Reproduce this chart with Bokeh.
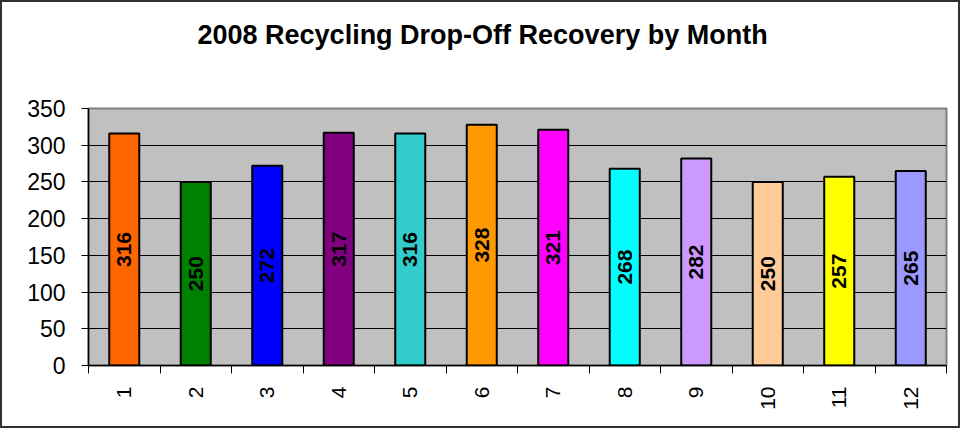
import math
from bokeh.plotting import figure
from bokeh.models import ColumnDataSource, FixedTicker, Range1d, Title
from bokeh.core.properties import value
from bokeh.embed import file_html
from bokeh.resources import INLINE

# ---- data ----
months = [1, 2, 3, 4, 5, 6, 7, 8, 9, 10, 11, 12]
tons = [316, 250, 272, 317, 316, 328, 321, 268, 282, 250, 257, 265]
colors = ["#FF6600", "#008000", "#0000FF", "#800080", "#33CCCC", "#FF9900",
          "#FF00FF", "#00FFFF", "#CC99FF", "#FFCC99", "#FFFF00", "#9999FF"]
y_ticks = [0, 50, 100, 150, 200, 250, 300, 350]
title_text = "2008 Recycling Drop-Off Recovery by Month"

src = ColumnDataSource(dict(
    x=months, top=tons, color=colors,
    mid=[t / 2 for t in tons], label=[str(t) for t in tons],
))

FONT = "Liberation Sans"

p = figure(width=960, height=428, output_backend="svg", toolbar_location=None,
           title=None,
           x_range=Range1d(0.5, 12.5), y_range=Range1d(0, 350),
           min_border_left=86, min_border_right=16,
           min_border_top=106, min_border_bottom=65,
           background_fill_color="#C0C0C0", border_fill_color="white")
p.styles = {"border": "2px solid #303030"}

# spacer (nearest the frame), then the real title above it
p.add_layout(Title(text=" ", text_font=FONT, text_font_size="26px",
                   standoff=10), "above")
p.add_layout(Title(text=title_text, align="left", offset=109, text_font=FONT,
                   text_font_size="27px", text_font_style="bold",
                   text_color="black", vertical_align="middle",
                   standoff=31), "above")

p.vbar(x="x", top="top", bottom=0, width=0.42, source=src,
       fill_color="color", line_color="black", line_width=2)

p.text(x="x", y="mid", text="label", source=src, angle=math.pi / 2,
       text_align="center", text_baseline="middle",
       text_font=value(FONT), text_font_size="21px", text_font_style="bold",
       text_color="black")

# axes
p.xaxis.ticker = FixedTicker(ticks=months,
                             minor_ticks=[m + 0.5 for m in [0] + months])
p.xaxis.major_tick_out = 0
p.xaxis.major_tick_in = 0
p.xaxis.minor_tick_out = 8
p.xaxis.minor_tick_in = 0
p.xaxis.minor_tick_line_color = "black"
p.xaxis.major_label_orientation = math.pi / 2
p.xaxis.major_label_standoff = 13
p.xaxis.major_label_text_font = FONT
p.xaxis.major_label_text_font_size = "21px"
p.xaxis.major_label_text_color = "black"
p.xaxis.axis_line_color = "black"
p.xaxis.axis_line_width = 1.5

p.yaxis.ticker = FixedTicker(ticks=y_ticks)
p.yaxis.major_tick_out = 7
p.yaxis.major_tick_in = 0
p.yaxis.minor_tick_out = 0
p.yaxis.minor_tick_in = 0
p.yaxis.major_label_standoff = 16
p.yaxis.major_label_text_font = FONT
p.yaxis.major_label_text_font_size = "23px"
p.yaxis.major_label_text_color = "black"
p.yaxis.axis_line_color = "black"
p.yaxis.axis_line_width = 1.5

p.xgrid.grid_line_color = None
p.ygrid.ticker = FixedTicker(ticks=y_ticks)
p.ygrid.grid_line_color = "black"
p.ygrid.grid_line_width = 1

p.outline_line_color = "#808080"
p.outline_line_width = 2

open("out.html", "w").write(file_html(p, INLINE))
